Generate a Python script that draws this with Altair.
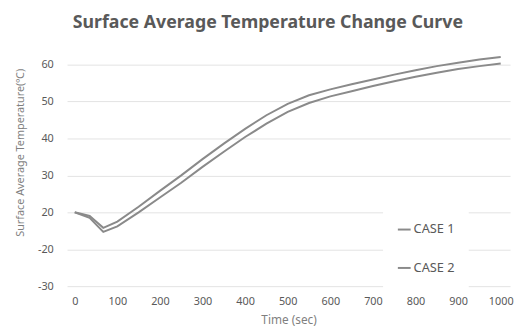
import altair as alt
import pandas as pd

# ---- data ----
times = [0, 35, 67, 100, 150, 200, 250, 300, 350, 400, 450, 500, 550, 600, 650, 700, 750, 800, 850, 900, 950, 1000]
case1 = [20.0, 19.0, 15.8, 17.5, 21.5, 25.8, 30.0, 34.4, 38.6, 42.6, 46.3, 49.4, 51.7, 53.3, 54.7, 56.0, 57.3, 58.5, 59.6, 60.5, 61.4, 62.1]
case2 = [20.0, 18.5, 14.7, 16.2, 20.0, 24.0, 28.0, 32.3, 36.4, 40.4, 44.0, 47.2, 49.6, 51.4, 52.8, 54.2, 55.5, 56.7, 57.8, 58.8, 59.6, 60.3]
series_names = ["CASE 1", "CASE 2"]

x_ticks = [0, 100, 200, 300, 400, 500, 600, 700, 800, 900, 1000]
y_tick_values = [0, 10, 20, 30, 40, 50, 60]
y_tick_labels = ["-30", "-20", "20", "30", "40", "50", "60"]

rows = []
for t, a, b in zip(times, case1, case2):
    rows.append({"time": t, "temp": a, "series": series_names[0]})
    rows.append({"time": t, "temp": b, "series": series_names[1]})
df = pd.DataFrame(rows)

label_expr = " : ".join(
    f"datum.value == {v} ? '{l}'" for v, l in zip(y_tick_values, y_tick_labels)
) + " : datum.label"

FONT = "Noto Sans"
GRAY_TXT = "#595959"

chart = alt.Chart(df).mark_line(strokeWidth=2).encode(
    x=alt.X(
        "time:Q",
        scale=alt.Scale(domain=[-18, 1022], nice=False, zero=False),
        axis=alt.Axis(
            values=x_ticks, format="d", title="Time (sec)", grid=False, domain=False, ticks=False,
            labelPadding=10, labelFontSize=11, labelColor=GRAY_TXT, labelFont=FONT,
            titleFontSize=12, titleColor="#7f7f7f", titleFont=FONT, titleFontWeight="normal",
            titleY=34, titleBaseline="middle", labelFlush=False,
        ),
    ),
    y=alt.Y(
        "temp:Q",
        scale=alt.Scale(domain=[0, 60], nice=False),
        axis=alt.Axis(
            values=y_tick_values, labelExpr=label_expr,
            title="Surface Average Temperature(℃)", grid=True, gridColor="#e3e3e3",
            gridWidth=1, domain=False, ticks=False, labelPadding=14,
            labelFontSize=11, labelColor=GRAY_TXT, labelFont=FONT,
            titleFontSize=11, titleColor="#7f7f7f", titleFont=FONT, titleFontWeight="normal",
            titleX=-47, titleY=89, titleAngle=270, titleAlign="center", titleBaseline="middle",
        ),
    ),
    color=alt.Color(
        "series:N",
        scale=alt.Scale(domain=series_names, range=["#8a8a8a", "#8a8a8a"]),
        legend=alt.Legend(
            title=None, orient="none", legendX=321, legendY=146, padding=14,
            fillColor="white", symbolType="stroke", symbolSize=169, symbolStrokeWidth=2,
            labelFontSize=13, labelColor=GRAY_TXT, labelFont=FONT, labelOffset=2,
            rowPadding=24,
        ),
    ),
).properties(
    width=450,
    height=225,
    title=alt.TitleParams(
        "Surface Average Temperature Change Curve",
        fontSize=18, font=FONT, fontWeight="bold", color=GRAY_TXT,
        anchor="middle", dx=-21, offset=21,
    ),
    autosize=alt.AutoSizeParams(type="none"),
    padding={"left": 60, "top": 55, "right": 5, "bottom": 43},
).configure_view(stroke=None)

chart.save("out.html", embed_options={"renderer": "svg", "actions": False})
